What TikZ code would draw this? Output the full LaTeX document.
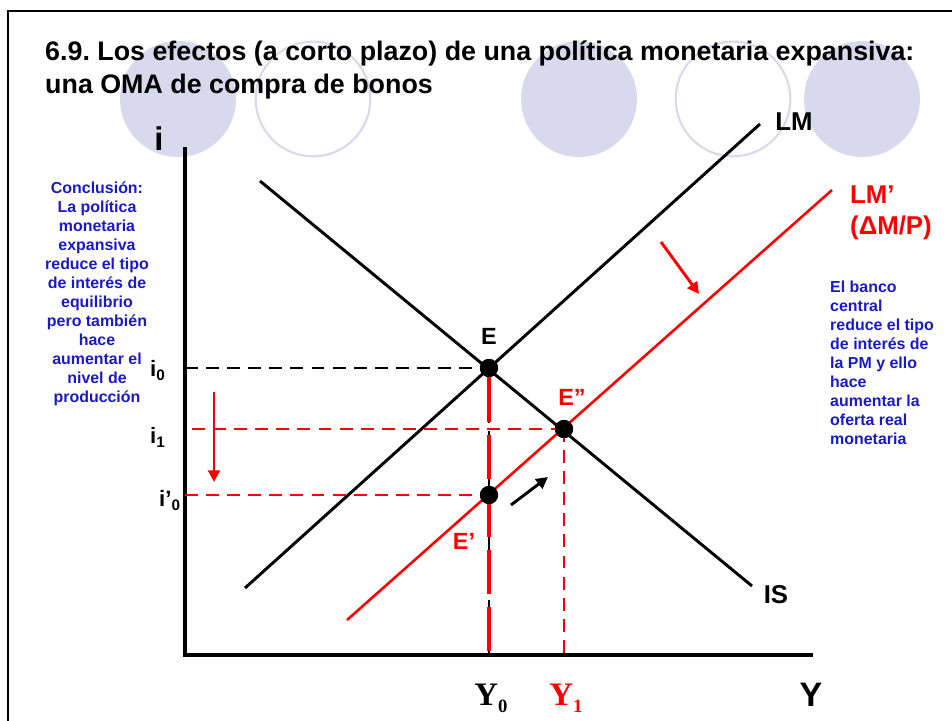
\documentclass[tikz,border=0pt]{standalone}
\usepackage{fontspec}
\setmainfont{Liberation Sans}
\newfontfamily\romana{Liberation Serif}
\usetikzlibrary{arrows.meta}
\frenchspacing

\definecolor{lavanda}{RGB}{217,217,237}
\definecolor{azul}{RGB}{25,25,204}
\newcommand{\indice}[1]{\raisebox{-4pt}{\fontsize{13}{13}\selectfont #1}}

\begin{document}
\begin{tikzpicture}[
    x=0.03cm, y=-0.03cm,
    eje/.style={line width=3.4pt, line join=miter},
    curva/.style={line width=2.5pt},
    guia/.style={line width=2pt, dash pattern=on 11pt off 7pt},
    guiagruesa/.style={red, line width=3.4pt, dash pattern=on 38pt off 11pt},
    punto/.style={circle, fill=black, inner sep=0pt, minimum size=15.5pt},
    flecha/.style={-{Triangle[length=10pt, width=10pt]}, line width=2.5pt},
    titulo/.style={inner sep=0pt, font=\bfseries\fontsize{22.9}{27}\selectfont},
    etiq/.style={inner sep=0pt, font=\bfseries\fontsize{22}{26}\selectfont},
    tick/.style={inner sep=0pt, font=\bfseries\fontsize{19}{22}\selectfont},
    nota/.style={inner sep=0pt, text=azul, font=\bfseries\fontsize{13.6}{16.2}\selectfont}
]
    \useasboundingbox (0,0) rectangle (952,720);
    \clip (0,0) rectangle (952,720);

    % Marco y circulos de fondo
    \draw[line width=1.8pt] (8,11) rectangle (1000,800);
    \fill[lavanda] (178,99) circle (1.74cm);
    \draw[lavanda, line width=1.8pt] (313,99) circle (1.72cm);
    \fill[lavanda] (579,99) circle (1.74cm);
    \draw[lavanda, line width=1.8pt] (733,99) circle (1.72cm);
    \fill[lavanda] (862,99) circle (1.74cm);

    % Titulo
    \node[titulo, anchor=base west] (tit1) at (45,60)
        {6.9. Los efectos (a corto plazo) de una política monetaria expansiva:};
    \node[titulo, anchor=base west] (tit2) at (45,93) {una OMA de compra de bonos};

    % Ejes
    \coordinate (O) at (185,655);
    \coordinate (ytop) at (185,147);
    \coordinate (xend) at (813,655);
    \draw[eje] (ytop) -- (O) -- (xend);
    \node[etiq, font=\bfseries\fontsize{28}{30}\selectfont] (ilab) at (159,139) {i};
    \node[etiq, font=\bfseries\fontsize{29}{30}\selectfont, anchor=base] (Ylab) at (811,706) {Y};

    % Curvas IS, LM y LM'
    \coordinate (lm1) at (245,588);
    \coordinate (lm2) at (760,124);
    \coordinate (is1) at (260,181);
    \coordinate (is2) at (752,586);
    \coordinate (lmp1) at (347,620);
    \coordinate (lmp2) at (832,190);
    \draw[curva] (lm1) -- (lm2);
    \draw[curva] (is1) -- (is2);
    \draw[curva, red, line width=2.2pt] (lmp1) -- (lmp2);
    \node[etiq] (LM) at (794,122) {LM};
    \node[etiq] (IS) at (776,595) {IS};
    \node[etiq, red, align=left, anchor=north west] (LMp) at (850,186) {LM’\\(ΔM/P)};

    % Equilibrios
    \node[punto] (E) at (489,368) {};
    \node[punto] (Epp) at (564,429) {};
    \node[punto] (Ep) at (489,495) {};
    \coordinate (i0) at (185,368);
    \coordinate (i1) at (192,429);
    \coordinate (ip0) at (185,495);

    % Guias
    \draw[guia] (i0) -- (E.center);
    \draw[guia] (E.center) -- (E |- O);
    \draw[guiagruesa] (E.south) -- (E |- O);
    \draw[guia, red] (i1) -- (Epp.center);
    \draw[guia, red] (ip0) -- (Ep.center);
    \draw[guia, red] (Epp.center) -- (Epp |- O);
    \node[punto] at (E) {};
    \node[punto] at (Epp) {};
    \node[punto] at (Ep) {};

    \node[etiq, font=\bfseries\fontsize{20}{22}\selectfont] (Elab) at (489,336) {E};
    \node[etiq, red, font=\bfseries\fontsize{20}{22}\selectfont] (Epplab) at (572,397) {E”};
    \node[etiq, red, font=\bfseries\fontsize{20}{22}\selectfont] (Eplab) at (464,541) {E’};

    % Valores en los ejes
    \node[tick, anchor=base west] (ti0) at (150,376) {i\indice{0}};
    \node[tick, anchor=base west] (ti1) at (150,443) {i\indice{1}};
    \node[tick, anchor=base west] (tip0) at (159,506) {i’\indice{0}};
    \node[inner sep=0pt, anchor=base, font=\romana\bfseries\fontsize{28}{30}\selectfont] (Y0)
        at (491,705) {Y\raisebox{-6pt}{\fontsize{16}{16}\selectfont 0}};
    \node[inner sep=0pt, anchor=base, red, font=\romana\bfseries\fontsize{28}{30}\selectfont] (Y1)
        at (566,705) {Y\raisebox{-6pt}{\fontsize{16}{16}\selectfont 1}};

    % Flechas
    \draw[flecha, red] (214,392) -- (214,482);
    \draw[flecha, red] (661,242) -- (699,294);
    \draw[flecha] (511,505) -- (548,477);

    % Notas
    \node[nota, align=center] (concl) at (97,294)
        {Conclusión:\\La política\\monetaria\\expansiva\\reduce el tipo\\de interés de\\equilibrio\\pero también\\hace\\aumentar el\\nivel de\\producción};
    \node[nota, align=left, anchor=west] (banco) at (830,363)
        {El banco\\central\\reduce el tipo\\de interés de\\la PM y ello\\hace\\aumentar la\\oferta real\\monetaria};

\end{tikzpicture}
\end{document}
